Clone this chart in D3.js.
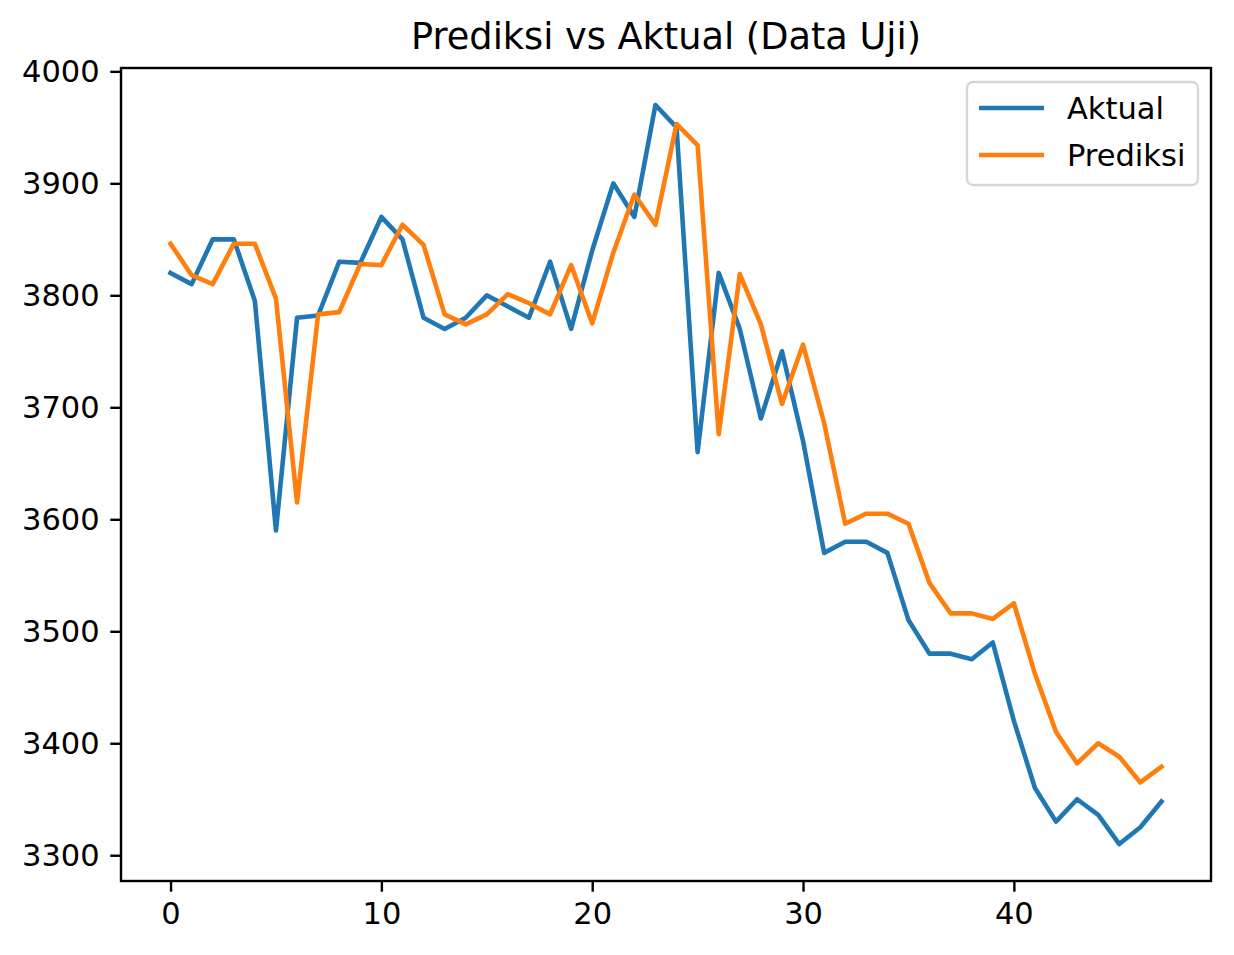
<!DOCTYPE html>
<html>
<head>
<meta charset="utf-8">
<script src="https://cdn.jsdelivr.net/npm/d3@7"></script>
<style>
  body { margin: 0; background: #fff; }
  svg, svg text { font-family: "DejaVu Sans", sans-serif; }
</style>
</head>
<body>
<svg id="chart" width="1234" height="955"></svg>
<script>
// values
var aktual = [3820, 3810, 3850, 3850, 3795, 3590, 3780, 3782, 3830, 3829,
              3870, 3850, 3780, 3770, 3780, 3800, 3790, 3780, 3830, 3770,
              3840, 3900, 3870, 3970, 3950, 3660, 3820, 3770, 3690, 3750,
              3670, 3570, 3580, 3580, 3570, 3510, 3480, 3480, 3475, 3490,
              3420, 3360, 3330, 3350, 3336, 3310, 3325, 3348];
var prediksi = [3846, 3818, 3810, 3846, 3846, 3797, 3615, 3783, 3785, 3828,
                3827, 3863, 3845, 3783, 3774, 3783, 3801, 3793, 3783, 3827,
                3775, 3838, 3890, 3863, 3953, 3934, 3676, 3819, 3774, 3703,
                3756, 3686, 3596, 3605, 3605, 3596, 3543, 3516, 3516, 3511,
                3525, 3462, 3410, 3382, 3400, 3388, 3365, 3379];
var seriesNames = ['Aktual', 'Prediksi'];
var seriesColors = ['#1f77b4', '#ff7f0e'];
var xTicks = [0, 10, 20, 30, 40];
var yTicks = [3300, 3400, 3500, 3600, 3700, 3800, 3900, 4000];
var title = 'Prediksi vs Aktual (Data Uji)';

(function() {
  var m = { left: 121, right: 1211, top: 68, bottom: 881 };
  var svg = d3.select('#chart');

  // matplotlib style 5% margins
  var n = aktual.length;
  var xPad = (n - 1) * 0.05;
  var all = aktual.concat(prediksi);
  var yMin = d3.min(all), yMax = d3.max(all);
  var yPad = (yMax - yMin) * 0.05;

  var x = d3.scaleLinear().domain([-xPad, n - 1 + xPad]).range([m.left, m.right]);
  var y = d3.scaleLinear().domain([yMin - yPad, yMax + yPad]).range([m.bottom, m.top]);

  var line = d3.line()
    .x(function(d, i) { return x(i); })
    .y(function(d) { return y(d); });

  var plot = svg.append('g');
  [aktual, prediksi].forEach(function(s, k) {
    plot.append('path')
      .datum(s)
      .attr('d', line)
      .attr('fill', 'none')
      .attr('stroke', seriesColors[k])
      .attr('stroke-width', 4.6)
      .attr('stroke-linejoin', 'round')
      .attr('stroke-linecap', 'square');
  });

  // axes
  var xAxis = d3.axisBottom(x).tickValues(xTicks).tickSize(10.7).tickPadding(10.7).tickFormat(d3.format('d'));
  var yAxis = d3.axisLeft(y).tickValues(yTicks).tickSize(10.7).tickPadding(10.7).tickFormat(d3.format('d'));

  var gx = svg.append('g').attr('transform', 'translate(0,' + m.bottom + ')').call(xAxis);
  var gy = svg.append('g').attr('transform', 'translate(' + m.left + ',0)').call(yAxis);
  [gx, gy].forEach(function(g) {
    g.attr('font-family', null).attr('font-size', null);
    g.select('.domain').remove();
    g.selectAll('.tick line').attr('stroke', '#000').attr('stroke-width', 2.4);
    g.selectAll('.tick text').attr('fill', '#000').style('font-size', '30.5px');
  });

  svg.append('rect')
    .attr('x', m.left).attr('y', m.top)
    .attr('width', m.right - m.left).attr('height', m.bottom - m.top)
    .attr('fill', 'none').attr('stroke', '#000').attr('stroke-width', 2.4);

  svg.append('text')
    .attr('x', (m.left + m.right) / 2).attr('y', 49)
    .attr('text-anchor', 'middle')
    .style('font-size', '36.7px')
    .text(title);

  // legend
  var legend = svg.append('g');
  legend.append('rect')
    .attr('x', 967).attr('y', 82).attr('width', 231).attr('height', 103)
    .attr('rx', 6).attr('fill', '#fff').attr('fill-opacity', 0.8)
    .attr('stroke', '#d6d6d6').attr('stroke-width', 2.4);
  seriesNames.forEach(function(name, k) {
    var ly = 108 + k * 47;
    legend.append('line')
      .attr('x1', 979).attr('x2', 1044).attr('y1', ly).attr('y2', ly)
      .attr('stroke', seriesColors[k]).attr('stroke-width', 4.6);
    legend.append('text')
      .attr('x', 1067).attr('y', ly + 11)
      .style('font-size', '30.5px')
      .text(name);
  });
})();
</script>
</body>
</html>
